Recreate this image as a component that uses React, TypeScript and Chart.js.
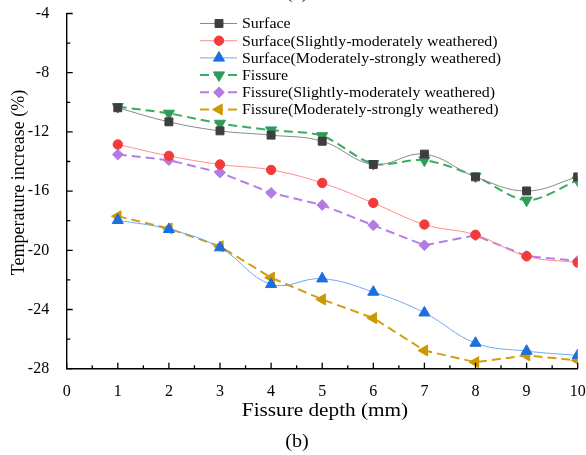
import React, { useEffect, useRef } from 'react';
import { Chart, registerables } from 'chart.js';
import { drawPoint } from 'chart.js/helpers';

Chart.register(...registerables);

// Fissure depth (mm) at which each series was measured
const depths = [1, 2, 3, 4, 5, 6, 7, 8, 9, 10];
const xTicks = [0, 1, 2, 3, 4, 5, 6, 7, 8, 9, 10];
const yTicks = [-28, -24, -20, -16, -12, -8, -4];

const seriesNames = [
  'Surface',
  'Surface(Slightly-moderately weathered)',
  'Surface(Moderately-strongly weathered)',
  'Fissure',
  'Fissure(Slightly-moderately weathered)',
  'Fissure(Moderately-strongly weathered)',
];

// Temperature increase (%)
const surface = [-10.37, -11.32, -11.93, -12.22, -12.63, -14.2, -13.5, -15.04, -15.99, -15.04];
const surfaceSlight = [-12.85, -13.62, -14.2, -14.57, -15.45, -16.8, -18.26, -18.95, -20.4, -20.83];
const surfaceStrong = [-17.97, -18.58, -19.82, -22.3, -21.92, -22.82, -24.22, -26.27, -26.81, -27.1];
const fissure = [-10.3, -10.75, -11.43, -11.88, -12.27, -14.15, -13.91, -15.0, -16.62, -15.27];
const fissureSlight = [-13.53, -13.91, -14.75, -16.12, -16.94, -18.31, -19.66, -18.99, -20.39, -20.72];
const fissureStrong = [-17.7, -18.53, -19.73, -21.85, -23.32, -24.58, -26.77, -27.56, -27.1, -27.44];

const SERIF = '"Liberation Serif", "Times New Roman", serif';

type Look = {
  values: number[];
  line: string;
  mark: string;
  shape: string;
  rot: number;
  r: number;
  dash: number[];
  width: number;
  tension: number;
};

const looks: Look[] = [
  { values: surface, line: '#8a8a8a', mark: '#3e3e3e', shape: 'rect', rot: 0, r: 5.6, dash: [], width: 1, tension: 0.4 },
  { values: surfaceSlight, line: '#ff8e8e', mark: '#f23b3b', shape: 'circle', rot: 0, r: 4.7, dash: [], width: 1, tension: 0.4 },
  { values: surfaceStrong, line: '#72a9f0', mark: '#1b6fe0', shape: 'triangle', rot: 0, r: 6.4, dash: [], width: 1, tension: 0.4 },
  { values: fissure, line: '#3aab63', mark: '#2f9d5a', shape: 'triangle', rot: 180, r: 6.4, dash: [9, 5], width: 2, tension: 0.3 },
  { values: fissureSlight, line: '#b57fe8', mark: '#b37ae6', shape: 'rectRot', rot: 0, r: 5.4, dash: [9, 5], width: 2, tension: 0 },
  { values: fissureStrong, line: '#d49e0e', mark: '#cd9903', shape: 'triangle', rot: 270, r: 6.4, dash: [9, 5], width: 2, tension: 0 },
];

function stretched(
  ctx: CanvasRenderingContext2D,
  text: string,
  x: number,
  y: number,
  size: number,
  sx: number,
  align: CanvasTextAlign,
  baseline: CanvasTextBaseline,
  angle = 0
) {
  ctx.save();
  ctx.translate(x, y);
  if (angle) ctx.rotate(angle);
  ctx.scale(sx, 1);
  ctx.font = `${size}px ${SERIF}`;
  ctx.fillStyle = '#000';
  ctx.textAlign = align;
  ctx.textBaseline = baseline;
  ctx.fillText(text, 0, 0);
  ctx.restore();
}

// Short tick marks pointing into the plot, with minor ticks halfway
const inwardTicks = {
  id: 'inwardTicks',
  afterDraw(chart: any) {
    const { ctx, chartArea, scales } = chart;
    ctx.save();
    ctx.strokeStyle = '#000';
    ctx.lineWidth = 1.3;
    ctx.beginPath();
    for (let i = 0; i < xTicks.length; i++) {
      const major = scales.x.getPixelForValue(xTicks[i]);
      ctx.moveTo(major, chartArea.bottom);
      ctx.lineTo(major, chartArea.bottom - 6);
      if (i < xTicks.length - 1) {
        const minor = scales.x.getPixelForValue((xTicks[i] + xTicks[i + 1]) / 2);
        ctx.moveTo(minor, chartArea.bottom);
        ctx.lineTo(minor, chartArea.bottom - 3.5);
      }
    }
    for (let i = 0; i < yTicks.length; i++) {
      const major = scales.y.getPixelForValue(yTicks[i]);
      ctx.moveTo(chartArea.left, major);
      ctx.lineTo(chartArea.left + 6, major);
      if (i < yTicks.length - 1) {
        const minor = scales.y.getPixelForValue((yTicks[i] + yTicks[i + 1]) / 2);
        ctx.moveTo(chartArea.left, minor);
        ctx.lineTo(chartArea.left + 3.5, minor);
      }
    }
    ctx.stroke();
    ctx.restore();
  },
};

// Axis titles, panel captions and the legend block
const annotations = {
  id: 'annotations',
  afterDraw(chart: any) {
    const { ctx } = chart;
    stretched(ctx, 'Fissure depth (mm)', 325, 416, 18, 1.18, 'center', 'alphabetic');
    stretched(ctx, '(b)', 297, 447, 18, 1.12, 'center', 'alphabetic');
    stretched(ctx, '(a)', 297, -2, 18, 1.12, 'center', 'alphabetic');
    stretched(ctx, 'Temperature increase (%)', 24, 182.5, 18, 1.0, 'center', 'alphabetic', -Math.PI / 2);

    chart.data.datasets.forEach((ds: any, i: number) => {
      const y = 23.5 + i * 17.2;
      ctx.save();
      ctx.strokeStyle = ds.borderColor;
      ctx.lineWidth = ds.borderWidth;
      ctx.setLineDash(ds.borderDash || []);
      ctx.beginPath();
      ctx.moveTo(200, y);
      ctx.lineTo(237, y);
      ctx.stroke();
      ctx.setLineDash([]);
      ctx.fillStyle = ds.pointBackgroundColor;
      ctx.strokeStyle = ds.pointBorderColor;
      ctx.lineWidth = 1;
      drawPoint(ctx, { pointStyle: ds.pointStyle, rotation: ds.pointRotation, radius: ds.pointRadius, borderWidth: 1 }, 219, y);
      ctx.restore();
      stretched(ctx, ds.label, 242, y + 1, 15, 1.06, 'left', 'middle');
    });
  },
};

export default function App() {
  const ref = useRef<HTMLCanvasElement>(null);

  useEffect(() => {
    const canvas = ref.current;
    if (!canvas) return;

    const datasets = looks.map((lk, i) => ({
      label: seriesNames[i],
      data: depths.map((d, j) => ({ x: d, y: lk.values[j] })),
      borderColor: lk.line,
      borderWidth: lk.width,
      borderDash: lk.dash,
      tension: lk.tension,
      pointStyle: lk.shape,
      pointRotation: lk.rot,
      pointRadius: lk.r,
      pointBackgroundColor: lk.mark,
      pointBorderColor: lk.mark,
      pointBorderWidth: 1,
      fill: false,
      clip: { left: false, top: false, right: 0, bottom: false },
    }));

    const chart = new Chart(canvas, {
      type: 'line',
      data: { datasets } as any,
      options: {
        animation: false,
        responsive: false,
        devicePixelRatio: 1,
        layout: { padding: { left: 0, top: 13.5, right: 8.3, bottom: 0 } },
        plugins: {
          legend: { display: false },
          tooltip: { enabled: false },
          title: { display: false },
        },
        scales: {
          x: {
            type: 'linear',
            min: 0,
            max: 10,
            afterBuildTicks: (s: any) => {
              s.ticks = xTicks.map((v) => ({ value: v }));
            },
            afterFit: (s: any) => {
              s.height = 455 - 368.7;
              s.paddingLeft = 0;
              s.paddingRight = 0;
            },
            grid: { display: false },
            border: { display: true, color: '#000', width: 1.4 },
            ticks: {
              color: '#000',
              font: { family: SERIF, size: 16 },
              padding: 5,
              maxRotation: 0,
              autoSkip: false,
            },
          },
          y: {
            type: 'linear',
            min: -28,
            max: -4,
            afterBuildTicks: (s: any) => {
              s.ticks = yTicks.map((v) => ({ value: v }));
            },
            afterFit: (s: any) => {
              s.width = 66.7;
              s.paddingTop = 0;
              s.paddingBottom = 0;
            },
            grid: { display: false },
            border: { display: true, color: '#000', width: 1.4 },
            ticks: {
              color: '#000',
              font: { family: SERIF, size: 16 },
              padding: 9.5,
            },
          },
        },
      } as any,
      plugins: [inwardTicks, annotations],
    });

    return () => chart.destroy();
  }, []);

  return (
    <div style={{ position: 'absolute', left: 0, top: 0, width: 586, height: 455, background: '#fff' }}>
      <canvas ref={ref} width={586} height={455} style={{ display: 'block' }} />
    </div>
  );
}
